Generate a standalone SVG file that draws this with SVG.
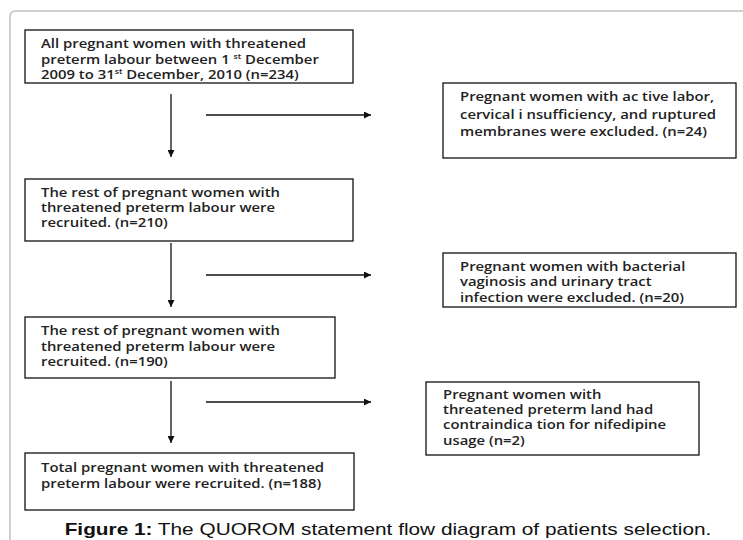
<svg xmlns="http://www.w3.org/2000/svg" width="743" height="540" viewBox="0 0 743 540">
<style>
.box{fill:#fff;stroke:#111;stroke-width:1.3}
.t{font-family:"Open Sans","DejaVu Sans",sans-serif;font-size:12px;font-weight:600;fill:#222}
.sup{font-size:7px}
.ln{stroke:#111;stroke-width:1.3;fill:none}
.cap{font-family:"Liberation Sans",Arial,sans-serif;font-size:16px;fill:#111}
</style>
<defs>
<marker id="ah" viewBox="0 0 10 10" refX="10" refY="5" markerWidth="8" markerHeight="7" markerUnits="userSpaceOnUse" orient="auto">
<path d="M0,0 L10,5 L0,10 z" fill="#111"/>
</marker>
</defs>
<rect width="743" height="540" fill="#fff"/>
<path d="M10,560 L10,17 Q10,11 16,11 L760,11" fill="none" stroke="#cfcfcf" stroke-width="2"/>
<g id="connectors">
<line class="ln" x1="171" y1="94" x2="171" y2="157" marker-end="url(#ah)"/>
<line class="ln" x1="206" y1="115" x2="371" y2="115" marker-end="url(#ah)"/>
<line class="ln" x1="171" y1="243" x2="171" y2="307" marker-end="url(#ah)"/>
<line class="ln" x1="206" y1="275" x2="371" y2="275" marker-end="url(#ah)"/>
<line class="ln" x1="171" y1="381" x2="171" y2="443" marker-end="url(#ah)"/>
<line class="ln" x1="206" y1="402" x2="371" y2="402" marker-end="url(#ah)"/>
</g>
<g id="n1">
<rect class="box" x="25" y="30" width="328" height="53"/>
<g transform="translate(41,0) scale(1.24,1)">
<text class="t" x="0" y="48">All pregnant women with threatened</text>
<text class="t" x="0" y="64">preterm labour between 1  <tspan class="sup" dy="-5">st</tspan><tspan dy="5"> December</tspan></text>
<text class="t" x="0" y="79">2009 to 31<tspan class="sup" dy="-5">st</tspan><tspan dy="5"> December, 2010 (n=234)</tspan></text>
</g>
</g>
<g id="n2">
<rect class="box" x="443" y="83" width="293" height="75"/>
<g transform="translate(460,0) scale(1.24,1)">
<text class="t" x="0" y="101">Pregnant women with ac  tive labor,</text>
<text class="t" x="0" y="119">cervical i nsufficiency, and ruptured</text>
<text class="t" x="0" y="136">membranes were excluded. (n=24)</text>
</g>
</g>
<g id="n3">
<rect class="box" x="25" y="179" width="328" height="62"/>
<g transform="translate(41,0) scale(1.24,1)">
<text class="t" x="0" y="197">The rest of pregnant women with</text>
<text class="t" x="0" y="212">threatened preterm labour were</text>
<text class="t" x="0" y="227">recruited. (n=210)</text>
</g>
</g>
<g id="n4">
<rect class="box" x="443" y="253" width="293" height="54"/>
<g transform="translate(460,0) scale(1.24,1)">
<text class="t" x="0" y="271">Pregnant women with bacterial</text>
<text class="t" x="0" y="286">vaginosis and urinary tract</text>
<text class="t" x="0" y="302">infection were excluded. (n=20)</text>
</g>
</g>
<g id="n5">
<rect class="box" x="25" y="317" width="310" height="61"/>
<g transform="translate(41,0) scale(1.24,1)">
<text class="t" x="0" y="335">The rest of pregnant women with</text>
<text class="t" x="0" y="351">threatened preterm labour were</text>
<text class="t" x="0" y="366">recruited. (n=190)</text>
</g>
</g>
<g id="n6">
<rect class="box" x="426" y="382" width="273" height="73"/>
<g transform="translate(443,0) scale(1.24,1)">
<text class="t" x="0" y="399">Pregnant women with</text>
<text class="t" x="0" y="414">threatened preterm land had</text>
<text class="t" x="0" y="429">contraindica tion for nifedipine</text>
<text class="t" x="0" y="445">usage (n=2)</text>
</g>
</g>
<g id="n7">
<rect class="box" x="25" y="453" width="329" height="57"/>
<g transform="translate(41,0) scale(1.24,1)">
<text class="t" x="0" y="472">Total pregnant women with threatened</text>
<text class="t" x="0" y="488">preterm labour were recruited. (n=188)</text>
</g>
</g>
<g transform="translate(388,0) scale(1.3,1)">
<text class="cap" x="0" y="535" text-anchor="middle"><tspan font-weight="bold">Figure 1:</tspan> The QUOROM statement flow diagram of patients selection.</text>
</g>
</svg>
